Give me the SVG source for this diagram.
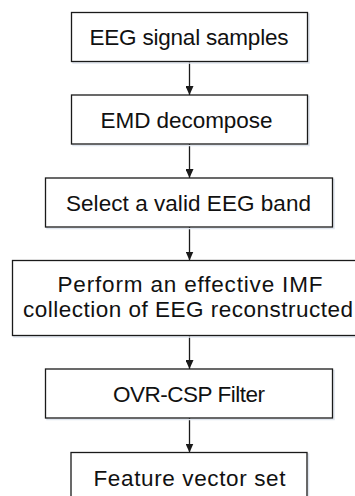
<svg xmlns="http://www.w3.org/2000/svg" width="355" height="496" viewBox="0 0 355 496">
  <defs>
    <marker id="arrow" viewBox="0 0 9 8" refX="9" refY="4" markerWidth="9" markerHeight="8" markerUnits="userSpaceOnUse" orient="auto">
      <path d="M0,0 L9,4 L0,8 Z" fill="#1a1a1a"/>
    </marker>
  </defs>
  <style>
    .box { fill: #ffffff; stroke: #1a1a1a; stroke-width: 1.3; }
    .shadow { fill: none; stroke: #dfe5ee; stroke-width: 1.5; }
    .label { font-family: "Liberation Sans", Arial, sans-serif; font-size: 22.5px; fill: #111111; text-anchor: middle; }
    .edge { stroke: #1a1a1a; stroke-width: 1.3; fill: none; marker-end: url(#arrow); }
  </style>
  <rect width="355" height="496" fill="#ffffff"/>

  <g id="connectors">
    <line class="edge" x1="189.5" y1="62" x2="189.5" y2="95"/>
    <line class="edge" x1="189.5" y1="144" x2="189.5" y2="178"/>
    <line class="edge" x1="189.5" y1="227" x2="189.5" y2="260.5"/>
    <line class="edge" x1="189.5" y1="336" x2="189.5" y2="369"/>
    <line class="edge" x1="189.5" y1="418" x2="189.5" y2="452.5"/>
  </g>

  <g id="samples">
    <rect class="shadow" x="73" y="14" width="236" height="49"/>
    <rect class="box" x="71.5" y="12.5" width="236" height="49"/>
    <text class="label" x="189" y="45" textLength="199" lengthAdjust="spacing">EEG signal samples</text>
  </g>

  <g id="emd">
    <rect class="shadow" x="73" y="96.5" width="236" height="49"/>
    <rect class="box" x="71.5" y="95" width="236" height="49"/>
    <text class="label" x="186.5" y="127.5" textLength="172" lengthAdjust="spacing">EMD decompose</text>
  </g>

  <g id="band">
    <rect class="shadow" x="47" y="179.5" width="287" height="49"/>
    <rect class="box" x="45.5" y="178" width="287" height="49"/>
    <text class="label" x="188.5" y="210.5" textLength="245" lengthAdjust="spacing">Select a valid EEG band</text>
  </g>

  <g id="imf">
    <rect class="shadow" x="14" y="262" width="355" height="75"/>
    <rect class="box" x="12.5" y="260.5" width="355" height="75"/>
    <text class="label" x="190" y="291.5" textLength="265" lengthAdjust="spacing">Perform an effective IMF</text>
    <text class="label" x="188" y="317" textLength="330" lengthAdjust="spacing">collection of EEG reconstructed</text>
  </g>

  <g id="csp">
    <rect class="shadow" x="47" y="370.5" width="287" height="49"/>
    <rect class="box" x="45.5" y="369" width="287" height="49"/>
    <text class="label" x="189" y="401.5" textLength="152" lengthAdjust="spacing">OVR-CSP Filter</text>
  </g>

  <g id="features">
    <rect class="shadow" x="72.5" y="454" width="236" height="49"/>
    <rect class="box" x="71" y="452.5" width="236" height="49"/>
    <text class="label" x="189.5" y="485.5" textLength="192" lengthAdjust="spacing">Feature vector set</text>
  </g>
</svg>
